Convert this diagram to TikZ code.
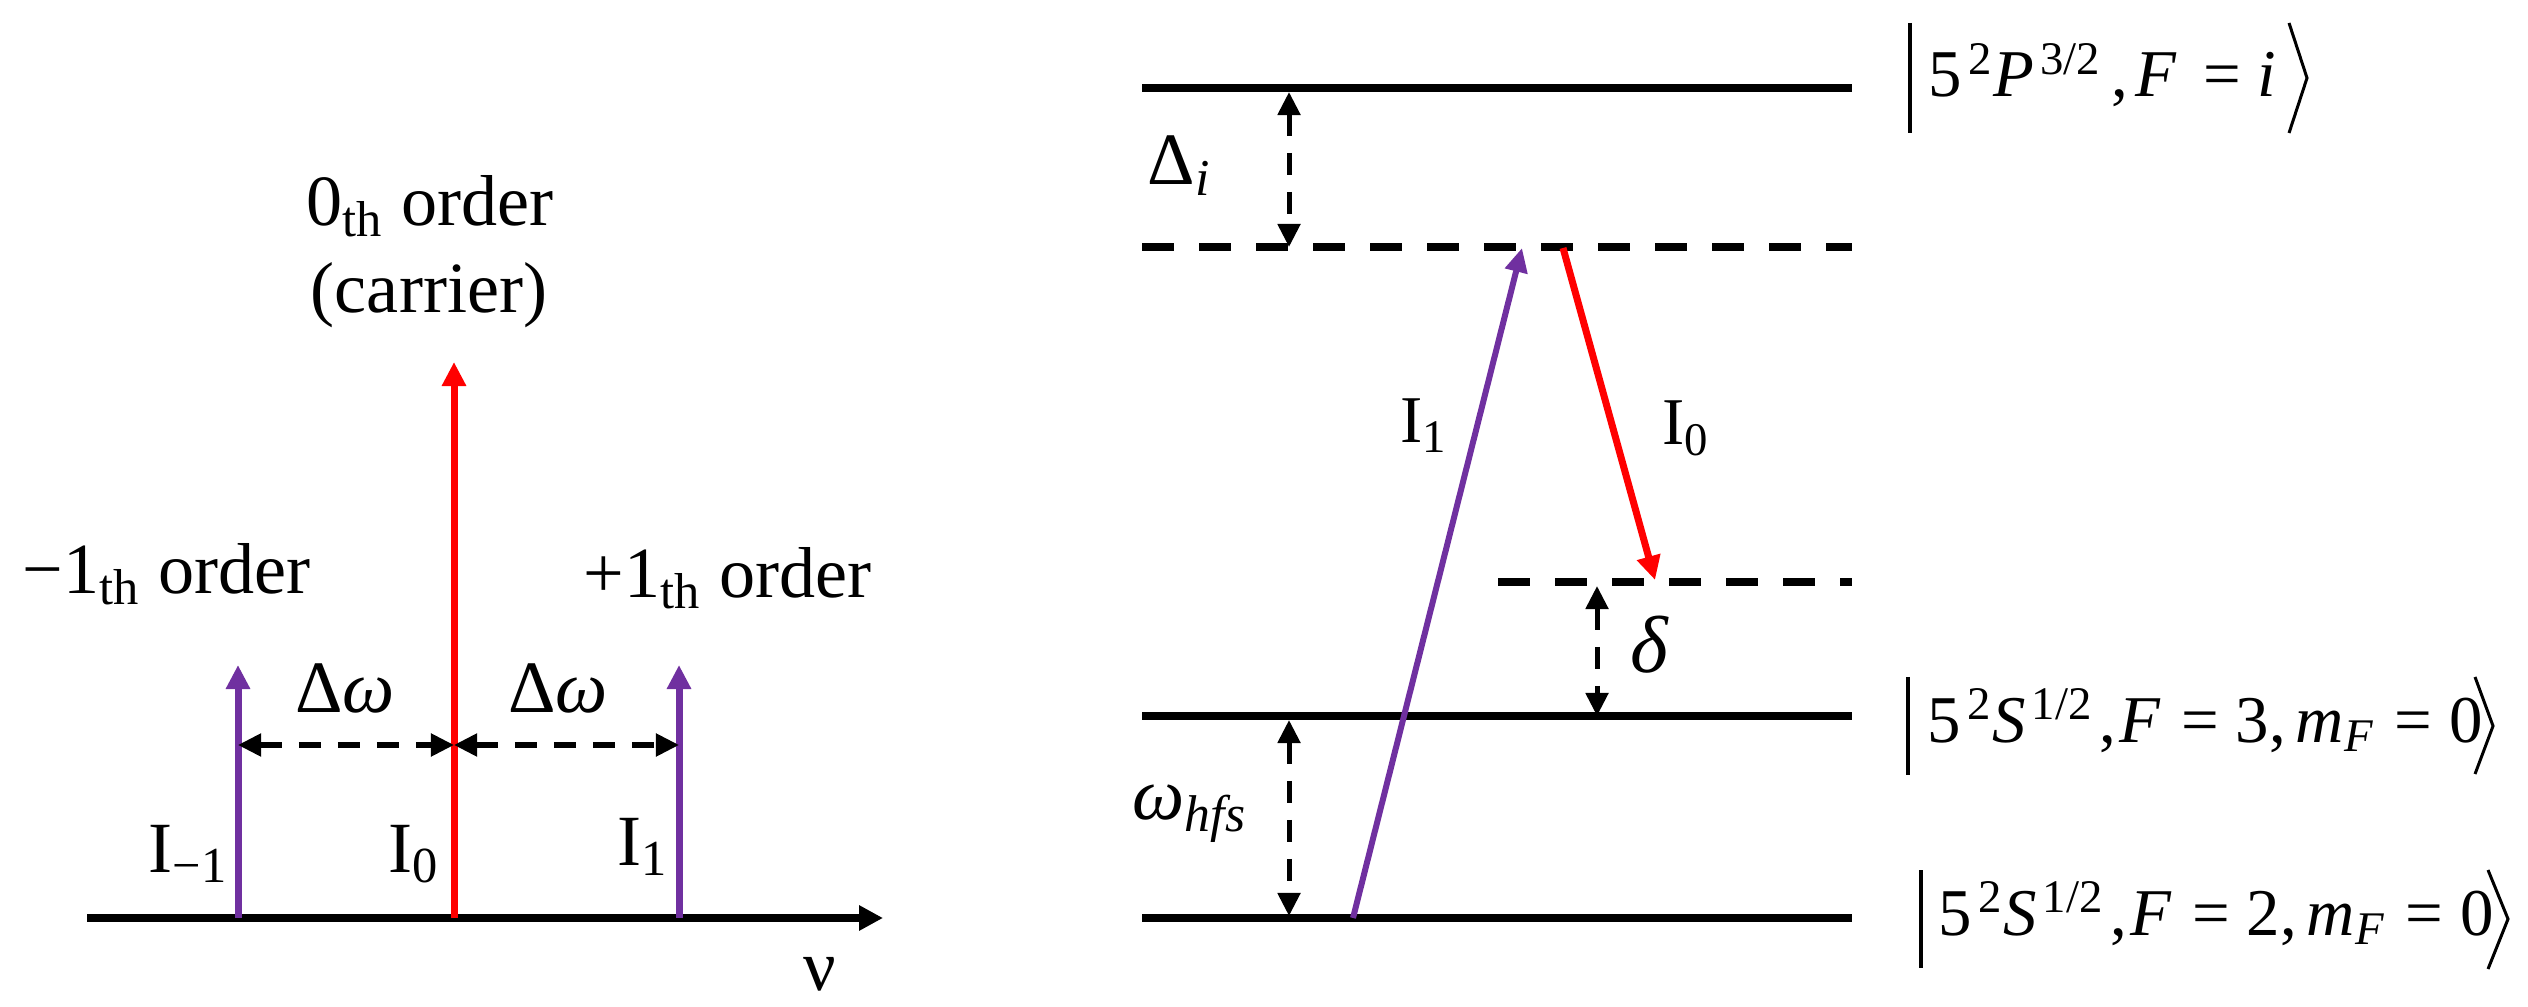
\documentclass[tikz,border=0pt]{standalone}
\usepackage{fontspec}
\IfFontExistsTF{LiberationSerif-Regular.ttf}{%
  \setmainfont{LiberationSerif}[Extension=.ttf,UprightFont=*-Regular,ItalicFont=*-Italic,BoldFont=*-Bold,BoldItalicFont=*-BoldItalic]}{%
  \setmainfont{Liberation Serif}}
\usetikzlibrary{arrows.meta}
\definecolor{vio}{RGB}{112,48,160}
\definecolor{myred}{RGB}{255,0,0}
\newcommand\ketPthree{5\kern0.1em\textsuperscript{2}\textit{P}\kern0.08em\textsuperscript{3/2}\kern0.15em,\kern0.1em\textit{F}\kern0.4em=\kern0.25em\textit{i}}
\newcommand\ketS[1]{5\kern0.1em\textsuperscript{2}\textit{S}\kern0.08em\textsuperscript{1/2}\kern0.1em,\kern0.05em\textit{F}\kern0.3em=\kern0.25em#1,\kern0.15em\textit{m}\textsubscript{\textit{F}}\kern0.3em=\kern0.25em0}
\begin{document}
\begin{tikzpicture}[x=0.01cm,y=-0.01cm,
  axis/.style={line width=0.08cm,-{Triangle[length=0.24cm,width=0.24cm]}},
  level/.style={line width=0.08cm},
  vlevel/.style={line width=0.08cm,dash pattern=on 0.32cm off 0.25cm},
  sep/.style={line width=0.05cm,dash pattern=on 0.22cm off 0.17cm,{Triangle[length=0.23cm,width=0.22cm]}-{Triangle[length=0.23cm,width=0.22cm]}},
  beamv/.style={line width=0.07cm,-{Triangle[length=0.24cm,width=0.23cm]}},
  beamd/.style={line width=0.06cm,-{Triangle[length=0.24cm,width=0.22cm]}},
  ltxt/.style={inner sep=0,font=\fontsize{20.5}{24}\selectfont},
  rtxt/.style={inner sep=0,font=\fontsize{19}{23}\selectfont},
  gtxt/.style={inner sep=0,font=\fontsize{21}{25}\selectfont},
  ketbar/.style={line width=0.035cm},
  ketang/.style={line width=0.03cm},
]
\useasboundingbox (0,0) rectangle (2528,1007);

% ---------- left panel ----------
\coordinate (a0) at (87,918);
\coordinate (a1) at (883,918);
\draw[axis] (a0) -- (a1);

\coordinate (m1) at (238,918);  \coordinate (m1t) at (238,665);
\coordinate (c0) at (454,918);  \coordinate (c0t) at (454,362);
\coordinate (p1) at (679,918);  \coordinate (p1t) at (679,665);
\draw[beamv,vio] (m1) -- (m1t);
\draw[beamv,myred] (c0) -- (c0t);
\draw[beamv,vio] (p1) -- (p1t);

\coordinate (dL) at (238,745);
\coordinate (dC) at (454,745);
\coordinate (dR) at (679,745);
\draw[sep] (dL) -- (dC);
\draw[sep] (dC) -- (dR);

\node[ltxt,anchor=base west] (tm1) at (22,594) {−1\textsubscript{th} order};
\node[ltxt,anchor=base west] (tp1) at (583,598) {+1\textsubscript{th} order};
\node[ltxt,anchor=base] (t0) at (430,226) {0\textsubscript{th} order};
\node[ltxt,anchor=base] (tc) at (429,313) {(carrier)};
\node[gtxt,anchor=base] (dw1) at (345,713) {Δ\textit{ω}};
\node[gtxt,anchor=base] (dw2) at (558,712) {Δ\textit{ω}};
\node[ltxt,anchor=base west] (im1) at (148,872) {I\textsubscript{−1}};
\node[ltxt,anchor=base west] (i0) at (388,872) {I\textsubscript{0}};
\node[ltxt,anchor=base west] (i1) at (617,865) {I\textsubscript{1}};
\node[ltxt,anchor=base] (nu) at (820,990) {ν};

% ---------- right panel ----------
\coordinate (e0a) at (1142,88);  \coordinate (e0b) at (1852,88);
\coordinate (v1a) at (1142,247); \coordinate (v1b) at (1852,247);
\coordinate (v2a) at (1498,582); \coordinate (v2b) at (1852,582);
\coordinate (g3a) at (1142,716); \coordinate (g3b) at (1852,716);
\coordinate (g2a) at (1142,918); \coordinate (g2b) at (1852,918);
\draw[level] (e0a) -- (e0b);
\draw[vlevel] (v1a) -- (v1b);
\draw[vlevel] (v2a) -- (v2b);
\draw[level] (g3a) -- (g3b);
\draw[level] (g2a) -- (g2b);

\coordinate (s1a) at (1289,92);  \coordinate (s1b) at (1289,247);
\coordinate (s2a) at (1597,586); \coordinate (s2b) at (1597,716);
\coordinate (s3a) at (1289,720); \coordinate (s3b) at (1289,916);
\draw[sep] (s1a) -- (s1b);
\draw[sep] (s2a) -- (s2b);
\draw[sep] (s3a) -- (s3b);

\coordinate (bp0) at (1353,918); \coordinate (bp1) at (1522,248);
\coordinate (br0) at (1563,248); \coordinate (br1) at (1655,580);
\draw[beamd,vio] (bp0) -- (bp1);
\draw[beamv,myred] (br0) -- (br1);

\node[gtxt,anchor=base west] (di) at (1147,185) {Δ\textsubscript{\textit{i}}};
\node[gtxt,anchor=base west] (wh) at (1132,820) {\textit{ω}\textsubscript{\textit{hfs}}};
\node[inner sep=0,font=\fontsize{23}{27}\selectfont,anchor=base west] (de) at (1630,673) {\textit{δ}};
\node[rtxt,anchor=base west] (ri1) at (1400,443) {I\textsubscript{1}};
\node[rtxt,anchor=base west] (ri0) at (1662,445) {I\textsubscript{0}};

\node[rtxt,anchor=base west] (k1) at (1928,97) {\ketPthree};
\node[rtxt,anchor=base west] (k2) at (1927,742) {\ketS{3}};
\node[rtxt,anchor=base west] (k3) at (1938,935) {\ketS{2}};

\coordinate (k1l0) at (1910,23);  \coordinate (k1l1) at (1910,133);
\coordinate (k1r0) at (2289,23);  \coordinate (k1rm) at (2307,78);  \coordinate (k1r1) at (2289,133);
\coordinate (k2l0) at (1908,677); \coordinate (k2l1) at (1908,775);
\coordinate (k2r0) at (2475,677); \coordinate (k2rm) at (2493,726); \coordinate (k2r1) at (2475,774);
\coordinate (k3l0) at (1921,870); \coordinate (k3l1) at (1921,968);
\coordinate (k3r0) at (2488,870); \coordinate (k3rm) at (2508,919); \coordinate (k3r1) at (2488,969);
\draw[ketbar] (k1l0) -- (k1l1);
\draw[ketang] (k1r0) -- (k1rm) -- (k1r1);
\draw[ketbar] (k2l0) -- (k2l1);
\draw[ketang] (k2r0) -- (k2rm) -- (k2r1);
\draw[ketbar] (k3l0) -- (k3l1);
\draw[ketang] (k3r0) -- (k3rm) -- (k3r1);
\end{tikzpicture}
\end{document}
